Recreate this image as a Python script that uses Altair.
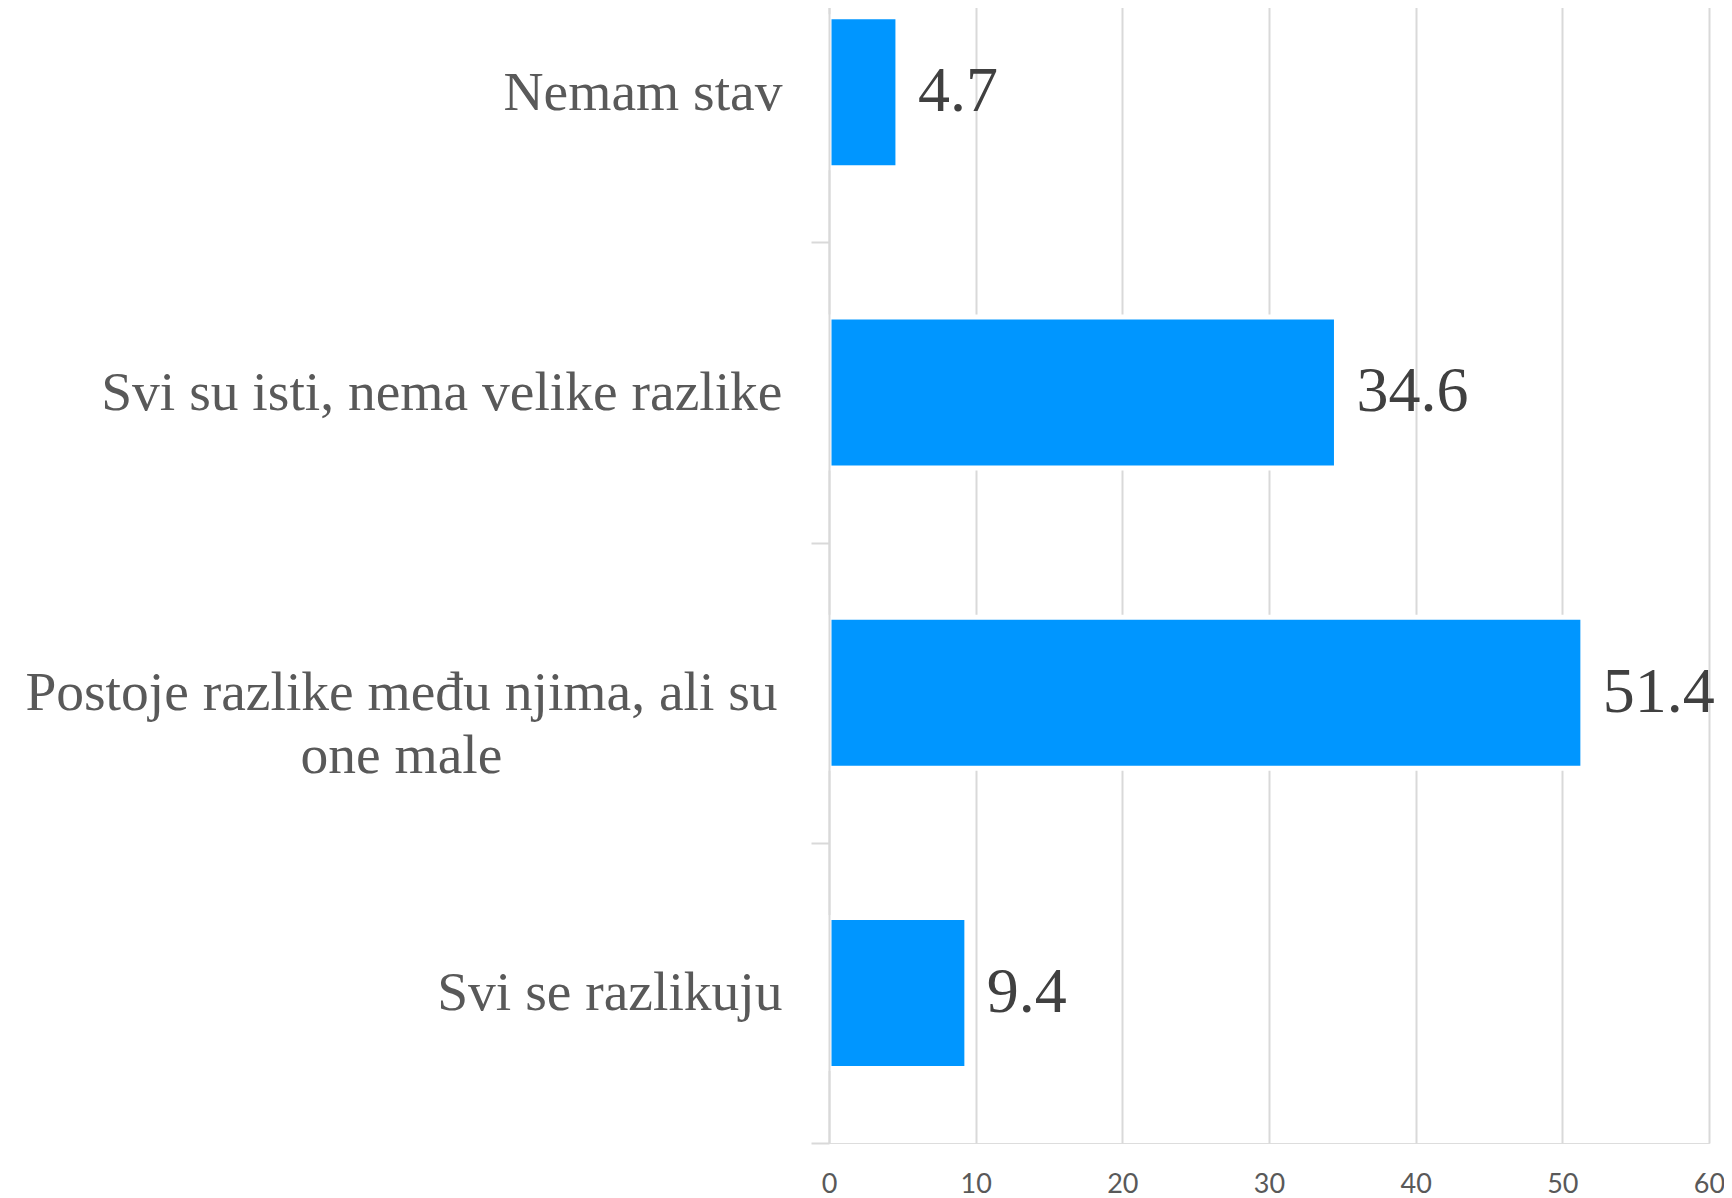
import altair as alt
import pandas as pd

categories = [
    "Nemam stav",
    "Svi su isti, nema velike razlike",
    "Postoje razlike među njima, ali su one male",
    "Svi se razlikuju",
]
values = [4.7, 34.6, 51.4, 9.4]
x_ticks = [0, 10, 20, 30, 40, 50, 60]

df = pd.DataFrame({"cat": categories, "val": values})

LONG = "Postoje razlike među njima, ali su one male"

y_enc = alt.Y(
    "cat:N",
    sort=categories,
    title=None,
    scale=alt.Scale(paddingInner=0, paddingOuter=0),
    axis=alt.Axis(
        tickBand="extent",
        grid=False,
        domainColor="#D9D9D9",
        domainWidth=2,
        tickColor="#D9D9D9",
        tickWidth=2,
        tickSize=18,
        labelFont="Liberation Serif",
        labelFontSize=55.5,
        labelColor="#595959",
        labelLineHeight=63,
        labelLimit=1000,
        labelBaseline="middle",
        labelAlign=alt.ConditionalAxisString(
            condition={"test": f"datum.value == '{LONG}'", "value": "center"},
            value="right",
        ),
        labelPadding=alt.ConditionalAxisNumber(
            condition={"test": f"datum.value == '{LONG}'", "value": 410},
            value=29,
        ),
        labelExpr=f"datum.label == '{LONG}' ? ['Postoje razlike među njima, ali su', 'one male'] : datum.label",
        zindex=1,
    ),
)

x_enc = alt.X(
    "val:Q",
    title=None,
    scale=alt.Scale(domain=[0, 60], nice=False),
    axis=alt.Axis(
        values=x_ticks,
        grid=True,
        gridColor="#D9D9D9",
        gridWidth=2,
        ticks=False,
        domain=False,
        labelFlush=False,
        labelFont="Lato",
        labelFontSize=27,
        labelColor="#595959",
        labelPadding=28,
        zindex=0,
    ),
)

bars = alt.Chart(df).mark_bar(
    color="#0096FF", height=151, stroke="white", strokeWidth=5
).encode(x=x_enc, y=y_enc)

labels = alt.Chart(df).mark_text(
    align="left",
    baseline="middle",
    dx=20,
    font="Liberation Serif",
    fontSize=64,
    color="#404040",
).encode(
    x=alt.X("val:Q"),
    y=alt.Y("cat:N", sort=categories),
    text=alt.Text("val:Q", format=".1f"),
)

chart = (
    alt.layer(bars, labels)
    .properties(
        width=880,
        height=1201,
        autosize=alt.AutoSizeParams(type="none"),
        padding={"left": 821, "top": -66, "right": 15, "bottom": 55},
    )
    .configure_view(stroke=None)
    .configure(background="white")
)

chart.save("out.html", embed_options={"renderer": "svg", "actions": False})
